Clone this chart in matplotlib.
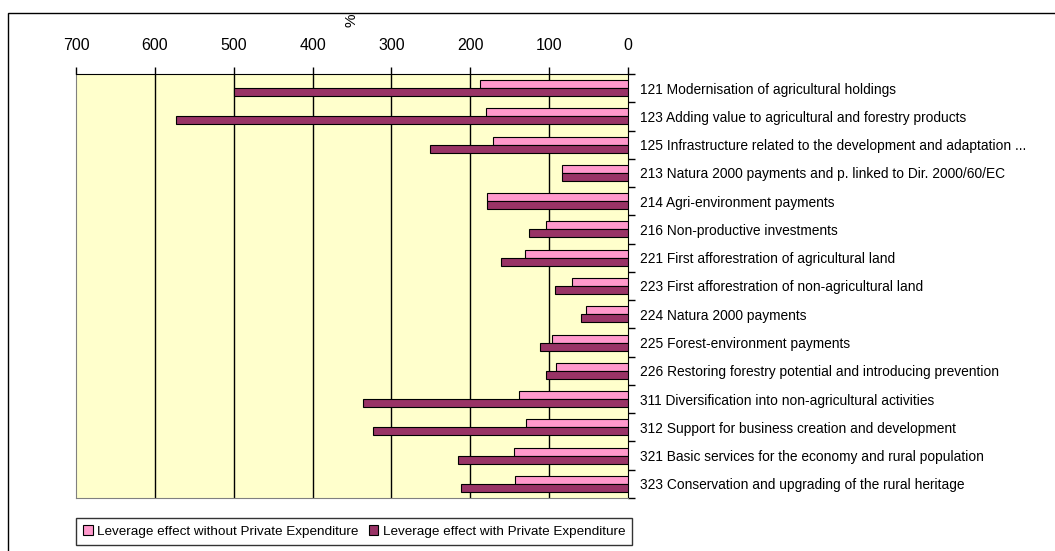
import matplotlib
matplotlib.use("Agg")
import matplotlib.pyplot as plt
from matplotlib.patches import Rectangle
from matplotlib.ticker import FixedLocator
import numpy as np

plt.rcParams['font.family'] = ['Liberation Sans', 'DejaVu Sans']

categories = [
    "121 Modernisation of agricultural holdings",
    "123 Adding value to agricultural and forestry products",
    "125 Infrastructure related to the development and adaptation ...",
    "213 Natura 2000 payments and p. linked to Dir. 2000/60/EC",
    "214 Agri-environment payments",
    "216 Non-productive investments",
    "221 First afforestration of agricultural land",
    "223 First afforestration of non-agricultural land",
    "224 Natura 2000 payments",
    "225 Forest-environment payments",
    "226 Restoring forestry potential and introducing prevention",
    "311 Diversification into non-agricultural activities",
    "312 Support for business creation and development",
    "321 Basic services for the economy and rural population",
    "323 Conservation and upgrading of the rural heritage",
]
without_private = [188, 180, 171, 84, 179, 104, 131, 71, 53, 96, 91, 138, 129, 145, 143]
with_private = [500, 573, 251, 84, 179, 126, 161, 93, 60, 112, 104, 336, 323, 216, 212]
x_ticks = [700, 600, 500, 400, 300, 200, 100, 0]
series_names = ["Leverage effect without Private Expenditure",
                "Leverage effect with Private Expenditure"]

fig = plt.figure(figsize=(10.55, 5.51), dpi=100)
W, H = 1055, 551
ax = fig.add_axes([76 / W, 1 - 498 / H, (628 - 76) / W, (498 - 74) / H])
ax.set_facecolor('#FFFFCC')

n = len(categories)
y = np.arange(n)
bh = 0.283
ax.barh(y - bh / 2, without_private, height=bh, color='#FF99CC', edgecolor='black',
        linewidth=0.8, label=series_names[0], zorder=3)
ax.barh(y + bh / 2, with_private, height=bh, color='#993366', edgecolor='black',
        linewidth=0.8, label=series_names[1], zorder=3)

ax.set_xlim(700, 0)
ax.set_ylim(n - 0.5, -0.5)
ax.xaxis.set_ticks_position('top')
ax.xaxis.set_label_position('top')
ax.set_xticks(x_ticks)
ax.tick_params(axis='x', which='major', length=5, width=1, labelsize=11.5, pad=10)
for v in x_ticks[1:-1]:
    ax.axvline(v, color='black', linewidth=1, zorder=1)
ax.set_xlabel('%', rotation=90, fontsize=11, labelpad=10)

ax.yaxis.set_ticks_position('right')
ax.set_yticks(y)
ax.set_yticklabels(categories, fontsize=9.9)
for lbl in ax.get_yticklabels():
    lbl.set_va('center_baseline')
ax.tick_params(axis='y', which='major', length=0, pad=9)
ax.yaxis.set_minor_locator(FixedLocator(np.arange(-0.5, n, 1)))
ax.tick_params(axis='y', which='minor', length=5, width=1, direction='out')

ax.spines['top'].set_color('black')
ax.spines['right'].set_color('black')
ax.spines['left'].set_color('#808080')
ax.spines['bottom'].set_color('#808080')

leg = fig.legend(loc='upper left', bbox_to_anchor=(76 / W, 1 - 518 / H), ncol=2,
                 fontsize=9.7, frameon=True, fancybox=False, edgecolor='black',
                 handlelength=0.7, handleheight=0.7, handletextpad=0.3,
                 columnspacing=0.8, borderpad=0.55, borderaxespad=0)
leg.get_frame().set_linewidth(1)

fig.patches.append(Rectangle((8 / W, -0.1), 1.2, 1 - 13 / H + 0.1, transform=fig.transFigure,
                             fill=False, edgecolor='black', linewidth=1))

fig.savefig('out.png', dpi=100)
